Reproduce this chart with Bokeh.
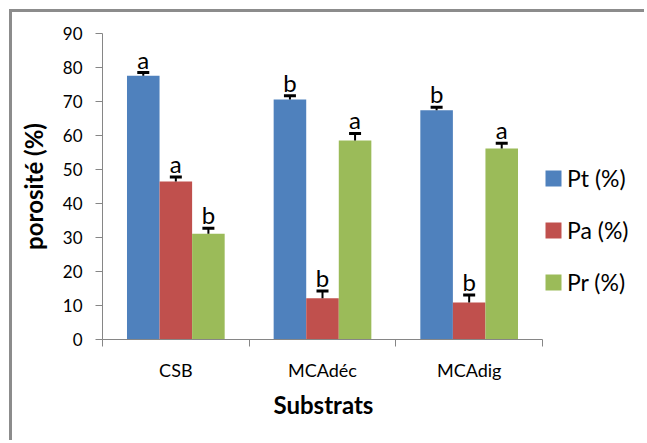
from bokeh.plotting import figure
from bokeh.models import (ColumnDataSource, Range1d, FixedTicker, Whisker, TeeHead,
                          LabelSet, Legend, LegendItem, Title)
from bokeh.core.properties import value
from bokeh.embed import file_html
from bokeh.resources import INLINE

# Porosity by substrate (mean, standard error and significance letters)
categories = ["CSB", "MCAdéc", "MCAdig"]
series_names = ["Pt (%)", "Pa (%)", "Pr (%)"]
pt_values = [77.6, 70.6, 67.4]
pa_values = [46.5, 12.1, 10.9]
pr_values = [31.1, 58.5, 56.2]
pt_errors = [0.9, 1.1, 0.9]
pa_errors = [1.3, 2.2, 2.2]
pr_errors = [1.6, 2.1, 1.5]
pt_letters = ["a", "b", "b"]
pa_letters = ["a", "b", "b"]
pr_letters = ["b", "a", "a"]
y_ticks = [0, 10, 20, 30, 40, 50, 60, 70, 80, 90]

colors = ["#4F81BD", "#C0504D", "#9BBB59"]
FONT = "Lato"
AXIS_GREY = "#868686"
BAR_W = 0.222

# The frame runs to the right edge so the legend can sit beside the bars;
# the axis itself only spans the three groups.
FRAME_W = 545
AXIS_W = 440
n = len(categories)
x_end = n * FRAME_W / AXIS_W

p = figure(width=635, height=431, x_range=Range1d(0, x_end), y_range=Range1d(0, 90),
           output_backend="svg", toolbar_location=None,
           min_border_left=90, min_border_right=0, min_border_top=21, min_border_bottom=104)
p.styles = {"margin-left": "9px", "margin-top": "9px",
            "border-left": "3px solid #8c8c8c", "border-top": "3px solid #8c8c8c"}
p.outline_line_color = None
p.xgrid.grid_line_color = None
p.ygrid.grid_line_color = None
p.background_fill_color = "white"
p.border_fill_color = "white"

# y axis
p.yaxis.ticker = FixedTicker(ticks=y_ticks)
p.yaxis.axis_line_color = AXIS_GREY
p.yaxis.major_tick_line_color = AXIS_GREY
p.yaxis.major_tick_out = 7
p.yaxis.major_tick_in = 0
p.yaxis.minor_tick_line_color = None
p.yaxis.major_label_text_font = FONT
p.yaxis.major_label_text_font_size = "17px"
p.yaxis.major_label_text_color = "black"
p.yaxis.major_label_standoff = 13
p.yaxis.axis_label = "porosité (%)"
p.yaxis.axis_label_text_font = FONT
p.yaxis.axis_label_text_font_style = "bold"
p.yaxis.axis_label_text_font_size = "24px"
p.yaxis.axis_label_text_color = "black"
p.yaxis.axis_label_standoff = 12

# x axis: labels at group centres, tick marks at group boundaries
centres = [i + 0.5 for i in range(n)]
p.xaxis.bounds = (0, n)
p.xaxis.ticker = FixedTicker(ticks=centres, minor_ticks=list(range(n + 1)))
p.xaxis.major_label_overrides = {c: name for c, name in zip(centres, categories)}
p.xaxis.axis_line_color = AXIS_GREY
p.xaxis.major_tick_line_color = None
p.xaxis.minor_tick_line_color = AXIS_GREY
p.xaxis.minor_tick_out = 7
p.xaxis.minor_tick_in = 0
p.xaxis.major_label_text_font = FONT
p.xaxis.major_label_text_font_size = "18px"
p.xaxis.major_label_text_color = "black"
p.xaxis.major_label_standoff = 12

# x axis title, placed under the middle of the three groups
x_title = Title(text="Substrats", align="left", offset=171,
                standoff=8, text_font=FONT, text_font_style="bold",
                text_font_size="24px", text_color="black")
p.add_layout(x_title, "below")

values = [pt_values, pa_values, pr_values]
errors = [pt_errors, pa_errors, pr_errors]
letters = [pt_letters, pa_letters, pr_letters]
offsets = [-BAR_W, 0.0, BAR_W]

items = []
for name, vals, errs, lets, off, col in zip(series_names, values, errors, letters, offsets, colors):
    src = ColumnDataSource(dict(
        x=[c + off for c in centres],
        top=vals,
        upper=[v + e for v, e in zip(vals, errs)],
        letter=lets,
    ))
    r = p.vbar(x="x", top="top", bottom=0, width=BAR_W, source=src,
               fill_color=col, line_color=None)
    items.append(LegendItem(label=name, renderers=[r]))
    p.add_layout(Whisker(source=src, base="x", upper="upper", lower="top",
                         dimension="height", line_color="black", line_width=2,
                         upper_head=TeeHead(size=12, line_width=3, line_color="black"),
                         lower_head=None, level="annotation"))
    p.add_layout(LabelSet(source=src, x="x", y="upper", text="letter", y_offset=4,
                          text_align="center", text_baseline="alphabetic",
                          text_font=value(FONT), text_font_size=value("24px"),
                          text_color=value("black")))

legend = Legend(items=items, location=(441, 43), orientation="vertical",
                glyph_width=20, glyph_height=20, label_standoff=4, spacing=24,
                padding=0, margin=0, border_line_color=None,
                background_fill_alpha=0, label_text_font=FONT,
                label_text_font_size="23px", label_text_color="black")
p.add_layout(legend)

open("out.html", "w").write(file_html(p, INLINE))
